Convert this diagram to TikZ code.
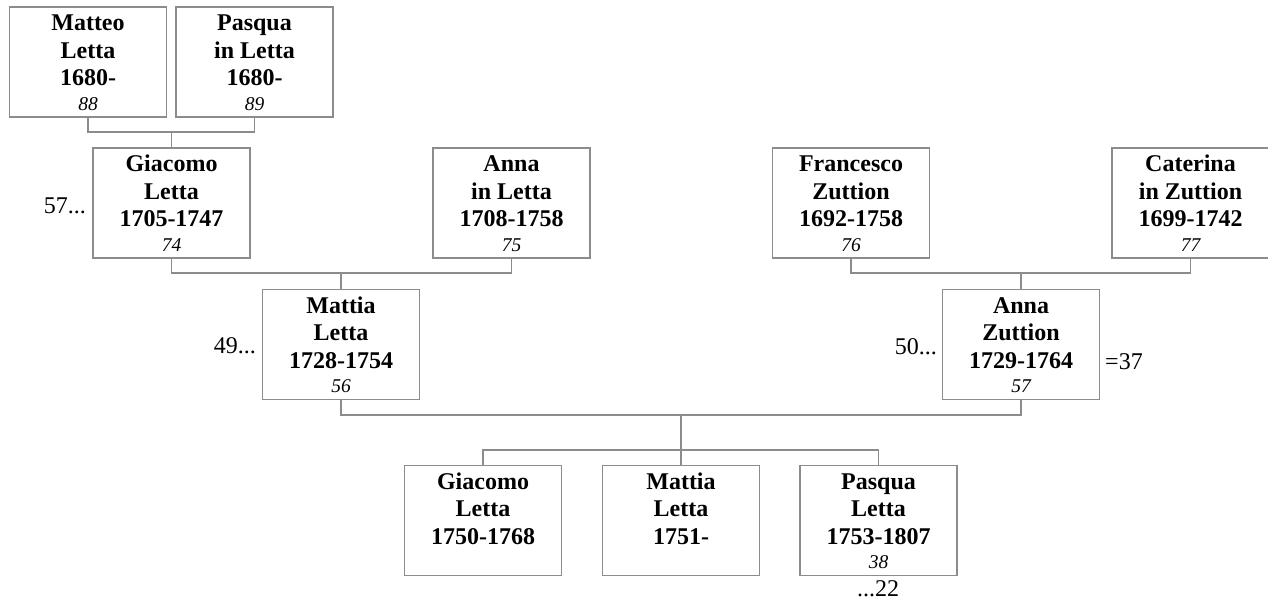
\documentclass[tikz,border=0pt]{standalone}
\usepackage{fontspec}
\setmainfont{Liberation Serif}
\definecolor{boxgray}{RGB}{140,140,140}
\newcommand{\pbox}[1]{\begin{minipage}[c][110pt][t]{157pt}\centering\fontsize{24}{27.5}\selectfont\bfseries\rule{0pt}{24pt}#1\end{minipage}}
\newcommand{\pnum}[1]{\\[-3pt]{\fontsize{19.5}{21}\selectfont\mdseries\itshape #1}}
\tikzset{
  person/.style={draw=boxgray, line width=1.2pt, inner sep=0pt, outer sep=0pt},
  conn/.style={draw=boxgray, line width=1.2pt},
  side/.style={inner sep=0pt, font=\fontsize{24}{27.5}\selectfont}
}
\begin{document}
\begin{tikzpicture}[x=1pt,y=1pt]
\useasboundingbox (0,0) rectangle (1268,601);
% row 0
\node[person] (mat) at (88,539) {\pbox{Matteo\\Letta\\1680-\pnum{88}}};
\node[person] (pas) at (254.5,539) {\pbox{Pasqua\\in Letta\\1680-\pnum{89}}};
% row 1
\node[person] (gia) at (171.5,398) {\pbox{Giacomo\\Letta\\1705-1747\pnum{74}}};
\node[person] (ann) at (511.5,398) {\pbox{Anna\\in Letta\\1708-1758\pnum{75}}};
\node[person] (fra) at (851,398) {\pbox{Francesco\\Zuttion\\1692-1758\pnum{76}}};
\node[person] (cat) at (1190.5,398) {\pbox{Caterina\\in Zuttion\\1699-1742\pnum{77}}};
% row 2
\node[person] (mtl) at (341,256.5) {\pbox{Mattia\\Letta\\1728-1754\pnum{56}}};
\node[person] (anz) at (1021,256.5) {\pbox{Anna\\Zuttion\\1729-1764\pnum{57}}};
% row 3
\node[person] (c1) at (483,80.5) {\pbox{Giacomo\\Letta\\1750-1768}};
\node[person] (c2) at (681,80.5) {\pbox{Mattia\\Letta\\1751-}};
\node[person] (c3) at (878.5,80.5) {\pbox{Pasqua\\Letta\\1753-1807\pnum{38}}};
% junctions
\coordinate (j1) at (171.5,469);
\coordinate (j2) at (341,328);
\coordinate (j5) at (1021,328);
\coordinate (j3) at (681,186);
\coordinate (j4) at (681,151);
% connectors
\draw[conn] (mat.south) |- (j1) -| (pas.south);
\draw[conn] (j1) -- (gia.north);
\draw[conn] (gia.south) |- (j2) -| (ann.south);
\draw[conn] (j2) -- (mtl.north);
\draw[conn] (fra.south) |- (j5) -| (cat.south);
\draw[conn] (j5) -- (anz.north);
\draw[conn] (mtl.south) |- (j3) -| (anz.south);
\draw[conn] (j3) -- (c2.north);
\draw[conn] (c1.north) |- (j4) -| (c3.north);
% side labels
\node[side, anchor=base east] (l57) at (86,387.7) {57...};
\node[side, anchor=base east] (l49) at (256,247) {49...};
\node[side, anchor=base east] (l50) at (937,246) {50...};
\node[side, anchor=base west] (l37) at (1105,231) {=37};
\node[side, anchor=base] (l22) at (878,4) {...22};
\end{tikzpicture}
\end{document}
